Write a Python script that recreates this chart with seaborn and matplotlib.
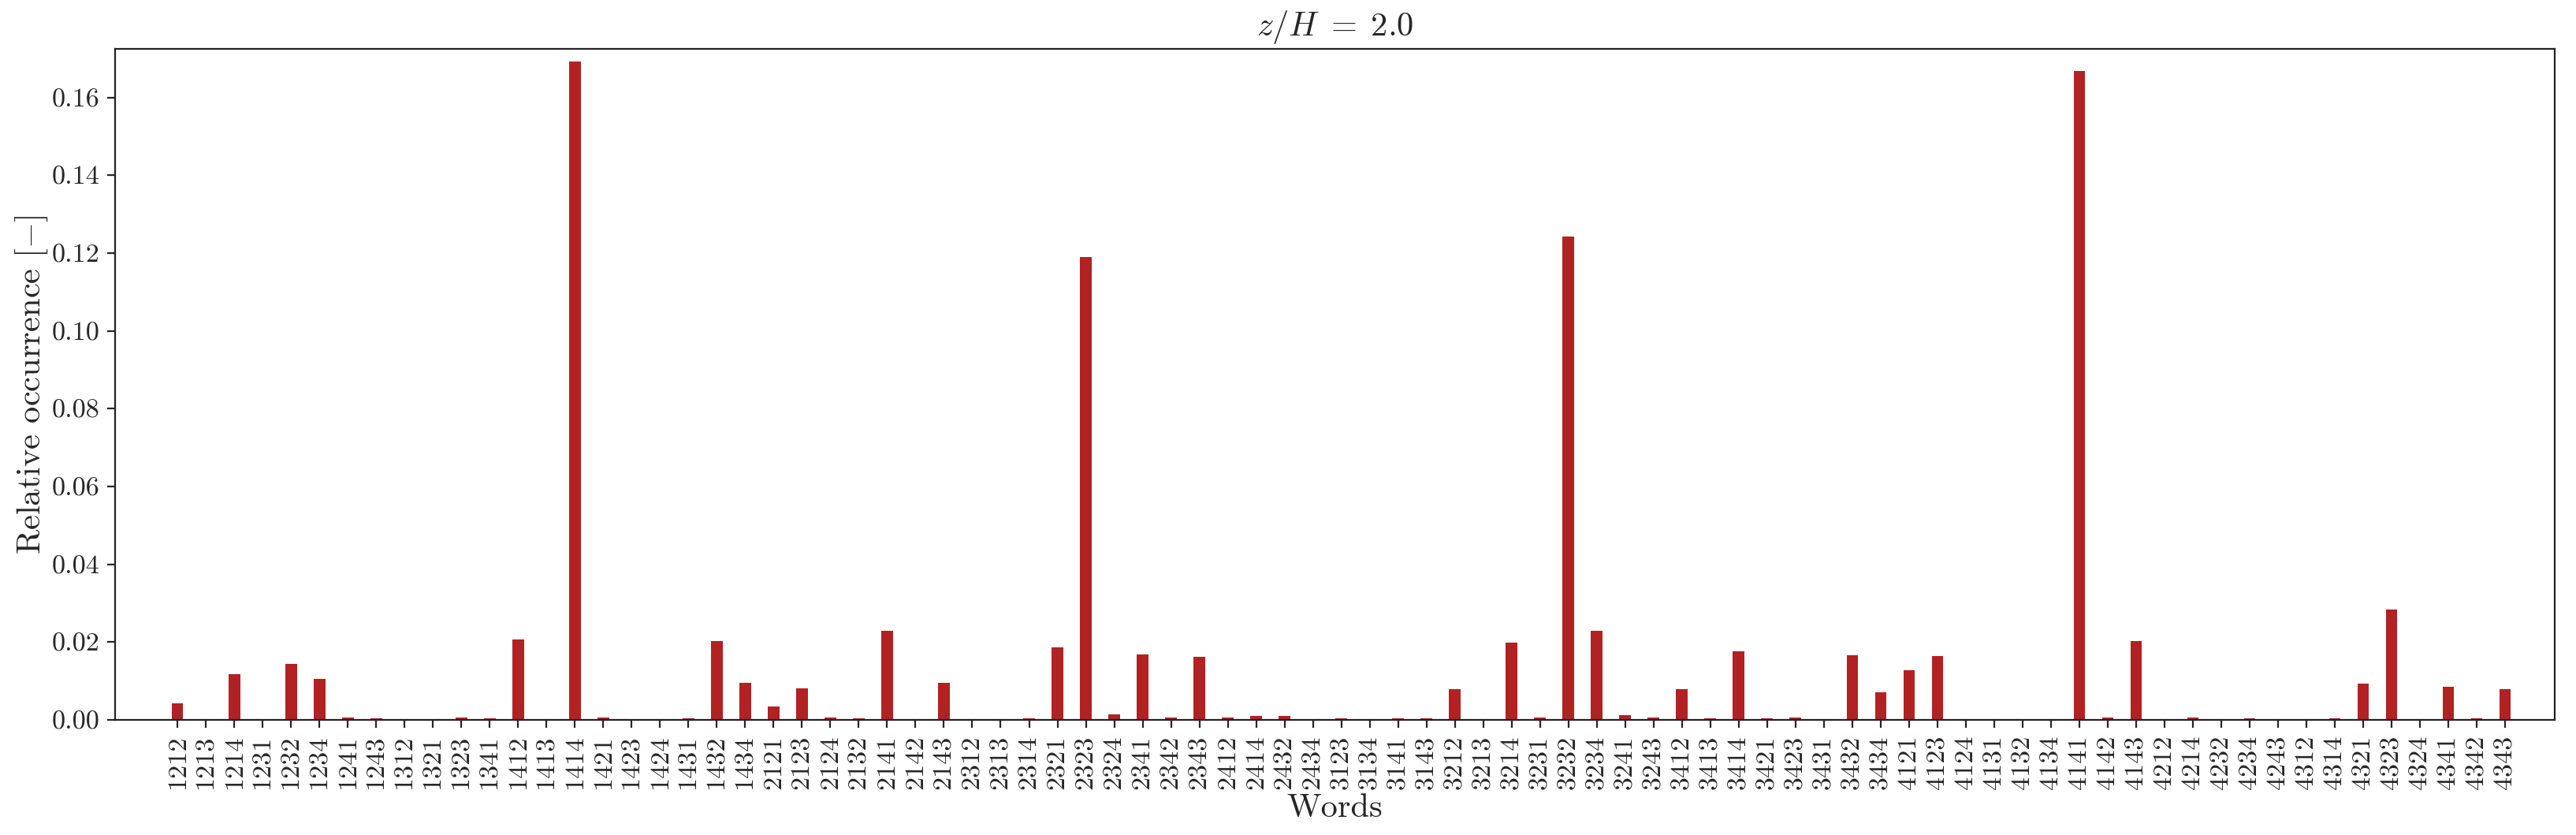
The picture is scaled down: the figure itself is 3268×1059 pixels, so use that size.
import numpy as np
import pandas as pd
import seaborn as sns
import matplotlib.pyplot as plt

words = ['1212', '1213', '1214', '1231', '1232', '1234', '1241', '1243',
         '1312', '1321', '1323', '1341',
         '1412', '1413', '1414', '1421', '1423', '1424', '1431', '1432', '1434',
         '2121', '2123', '2124', '2132', '2141', '2142', '2143',
         '2312', '2313', '2314', '2321', '2323', '2324', '2341', '2342', '2343',
         '2412', '2414', '2432', '2434',
         '3123', '3134', '3141', '3143',
         '3212', '3213', '3214', '3231', '3232', '3234', '3241', '3243',
         '3412', '3413', '3414', '3421', '3423', '3431', '3432', '3434',
         '4121', '4123', '4124', '4131', '4132', '4134', '4141', '4142', '4143',
         '4212', '4214', '4232', '4234', '4243',
         '4312', '4314', '4321', '4323', '4324', '4341', '4342', '4343']

# relative occurrence
occurrence = [0.0042, 0.0001, 0.0118, 0.0001, 0.0144, 0.0105, 0.0006, 0.0003,
              0.0001, 0.0001, 0.0006, 0.0003,
              0.0207, 0.0001, 0.1692, 0.0006, 0.0001, 0.0001, 0.0003, 0.0202, 0.0095,
              0.0034, 0.0080, 0.0006, 0.0003, 0.0228, 0.0001, 0.0095,
              0.0001, 0.0001, 0.0003, 0.0187, 0.1189, 0.0013, 0.0168, 0.0006, 0.0162,
              0.0006, 0.0009, 0.0009, 0.0001,
              0.0003, 0.0001, 0.0003, 0.0003,
              0.0078, 0.0001, 0.0199, 0.0006, 0.1243, 0.0228, 0.0011, 0.0006,
              0.0078, 0.0003, 0.0177, 0.0003, 0.0006, 0.0001, 0.0166, 0.0070,
              0.0128, 0.0164, 0.0001, 0.0001, 0.0001, 0.0001, 0.1669, 0.0006, 0.0202,
              0.0001, 0.0006, 0.0001, 0.0003, 0.0001,
              0.0001, 0.0003, 0.0093, 0.0283, 0.0001, 0.0085, 0.0003, 0.0078]

title = r'$z/H \;=\; 2.0$'

df = pd.DataFrame({'word': words, 'occ': occurrence})

sns.set_style('ticks')
plt.rcParams['font.family'] = 'cmr10'
plt.rcParams['mathtext.fontset'] = 'cm'
plt.rcParams['axes.formatter.use_mathtext'] = True
plt.rcParams['axes.unicode_minus'] = False

fig, ax = plt.subplots(figsize=(16.34, 5.295), dpi=200)
fig.subplots_adjust(left=0.0447, right=0.9917, top=0.9415, bottom=0.138)

sns.barplot(data=df, x='word', y='occ', color='#b22222', saturation=1,
            width=0.4, ax=ax, linewidth=0)

ax.set_xlim(-2.2, 83.75)
ax.set_ylim(0, 0.1725)
ax.set_yticks(np.arange(0, 0.161, 0.02))
ax.set_yticklabels([f'{v:.2f}' for v in np.arange(0, 0.161, 0.02)])
ax.tick_params(axis='x', labelrotation=90, labelsize=12.3, length=3.5, width=0.8)
ax.tick_params(axis='y', labelsize=12.3, length=3.5, width=0.8)
ax.set_xlabel('Words', fontsize=15.3, labelpad=2)
ax.set_ylabel('Relative occurrence $[-]$', fontsize=15.3, labelpad=1)
ax.set_title(title, fontsize=15.3)
for s in ax.spines.values():
    s.set_linewidth(0.8)
    s.set_color('#222222')

plt.savefig('out.png', dpi=200)
